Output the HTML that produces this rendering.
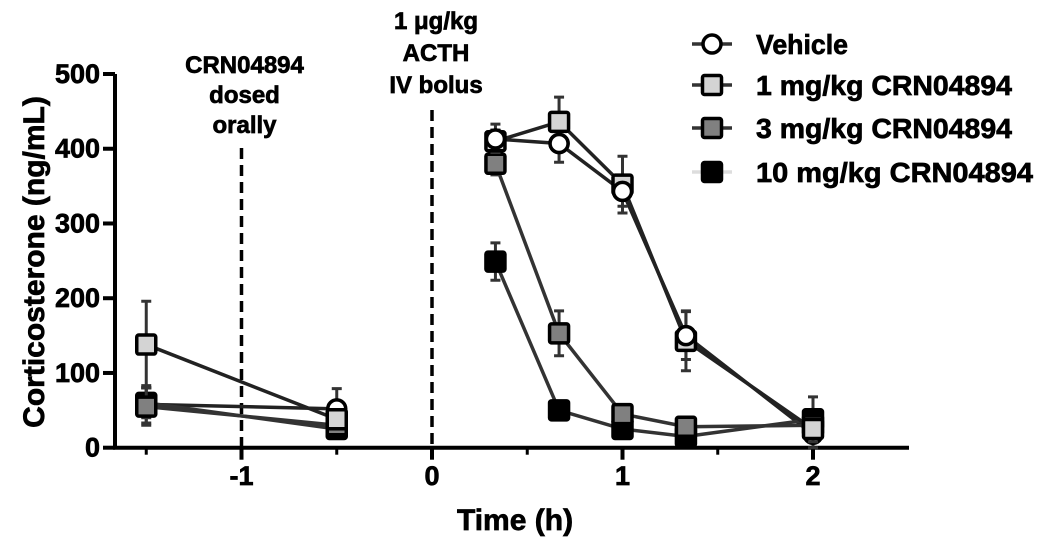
<!DOCTYPE html>
<html><head><meta charset="utf-8"><style>
html,body{margin:0;padding:0;background:#fff}
svg{display:block;font-family:"Liberation Sans",Arial,sans-serif;font-weight:bold}
svg text{stroke:#000;stroke-width:0.7px}
</style></head><body>
<svg id="chart" width="1046" height="550" viewBox="0 0 1046 550" xmlns="http://www.w3.org/2000/svg">
<g id="axes"></g>
<g id="ann"></g>
<g id="series"></g>
<g id="legend"></g>
</svg>
<script>
const times = [-1.5, -0.5, 0.333, 0.667, 1, 1.333, 2];
const vehicle = [58, 52, 413, 407, 343, 150, 18];
const vehicleErr = [25, 27, 20, 25, 20, 32, 20];
const mg1 = [138, 38, 410, 436, 352, 143, 25];
const mg1Err = [58, 10, 15, 33, 38, 40, 10];
const mg3 = [55, 30, 380, 153, 45, 28, 30];
const mg3Err = [25, 8, 15, 30, 8, 5, 8];
const mg10 = [60, 25, 249, 50, 25, 15, 38];
const mg10Err = [20, 5, 25, 5, 5, 5, 30];
const yTicks = [0, 100, 200, 300, 400, 500];
const xTicks = [-1, 0, 1, 2];
const xMinor = [-1.5, -0.5, 0.5, 1.5];
const seriesNames = ["Vehicle", "1 mg/kg CRN04894", "3 mg/kg CRN04894", "10 mg/kg CRN04894"];

const NS = "http://www.w3.org/2000/svg";
const X = t => 432 + t * 190.5;
const Y = v => 447.7 - v * 0.7474;
function mk(tag, attrs, parent) {
  const e = document.createElementNS(NS, tag);
  for (const k in attrs) e.setAttribute(k, attrs[k]);
  parent.appendChild(e);
  return e;
}
const axesG = document.getElementById('axes');
const annG = document.getElementById('ann');
const serG = document.getElementById('series');
const legG = document.getElementById('legend');

let a = mk('line', {x1:115, y1:Y(0), x2:115, y2:Y(500), stroke:'#000', 'stroke-width':4}, axesG);


a = mk('line', {x1:113, y1:Y(0), x2:909, y2:Y(0), stroke:'#000', 'stroke-width':4}, axesG);


yTicks.forEach(v => {
  const l = mk('line', {x1:103, y1:Y(v), x2:115, y2:Y(v), stroke:'#000', 'stroke-width':4}, axesG);
  
  
  const t = mk('text', {x:100, y:Y(v)+9, 'text-anchor':'end', 'font-size':27}, axesG);
  t.textContent = v;
  
  
});
xTicks.forEach(v => {
  const l = mk('line', {x1:X(v), y1:Y(0), x2:X(v), y2:Y(0)+12, stroke:'#000', 'stroke-width':4}, axesG);
  
  
  const t = mk('text', {x:X(v), y:485, 'text-anchor':'middle', 'font-size':27}, axesG);
  t.textContent = v;
  
  
});
xMinor.forEach(v => {
  const l = mk('line', {x1:X(v), y1:Y(0), x2:X(v), y2:Y(0)+7, stroke:'#000', 'stroke-width':3}, axesG);
  
  
});
let tt0 = mk('text', {x:515, y:530, 'text-anchor':'middle', 'font-size':30}, axesG);
tt0.textContent = 'Time (h)';


tt0 = mk('text', {x:0, y:0, 'text-anchor':'middle', 'font-size':30, transform:'translate(44,262) rotate(-90)'}, axesG);
tt0.textContent = 'Corticosterone (ng/mL)';



let d = mk('line', {x1:X(-1), y1:148, x2:X(-1), y2:Y(0), stroke:'#000', 'stroke-width':3.5, 'stroke-dasharray':'11,6'}, annG);


d = mk('line', {x1:X(0), y1:110, x2:X(0), y2:Y(0), stroke:'#000', 'stroke-width':3.5, 'stroke-dasharray':'11,6'}, annG);


[['CRN04894',73],['dosed',103],['orally',133]].forEach(([s,y]) => {
  const e = mk('text', {x:X(-1)+3, y:y, 'text-anchor':'middle', 'font-size':24}, annG);
  e.textContent = s;
  
  
});
[['1 \u03bcg/kg',29],['ACTH',61],['IV bolus',93]].forEach(([s,y]) => {
  const e = mk('text', {x:X(0)+4, y:y, 'text-anchor':'middle', 'font-size':24}, annG);
  e.textContent = s;
  
  
});

const defs = [
  {vals: vehicle, err: vehicleErr, fill:'#fff', shape:'circle', line:'#222'},
  {vals: mg1, err: mg1Err, fill:'#d4d4d4', shape:'square', line:'#222'},
  {vals: mg3, err: mg3Err, fill:'#808080', shape:'square', line:'#333'},
  {vals: mg10, err: mg10Err, fill:'#000', shape:'square', line:'#333'}
];
function marker(shape, fill, cx, cy, parent) {
  let m;
  if (shape === 'circle') m = mk('circle', {cx:cx, cy:cy, r:9, fill:fill, stroke:'#000', 'stroke-width':3.5}, parent);
  else m = mk('rect', {x:cx-9.5, y:cy-9.5, width:19, height:19, rx:2, fill:fill, stroke:'#000', 'stroke-width':3.5}, parent);
  return m;
}
[0,3,2,1].forEach(si => {
  const s = defs[si];
  const g = mk('g', {}, serG);
  
  
  const pre = times.map((q,i)=>i).filter(i=>times[i]<0);
  const post = times.map((q,i)=>i).filter(i=>times[i]>0);
  [pre, post].forEach(idx => {
    const p = mk('polyline', {points: idx.map(i => X(times[i])+','+Y(s.vals[i])).join(' '), fill:'none', stroke:s.line, 'stroke-width':3.5}, g);
    
    
  });
  times.forEach((q,i) => {
    const x = X(q), y1 = Y(s.vals[i]+s.err[i]), y2 = Y(Math.max(0,s.vals[i]-s.err[i]));
    const e = mk('path', {d:`M${x},${y1}V${y2}M${x-5},${y1}H${x+5}M${x-5},${y2}H${x+5}`, stroke:'#333', 'stroke-width':3, fill:'none'}, g);
    
    
  });
  times.forEach((q,i) => {
    const m = marker(s.shape, s.fill, X(q), Y(s.vals[i]), g);
    
    
  });
});
const topG = mk('g', {}, serG);


times.forEach((q,i) => {
  if (q > 0 && q < 2) {
    const m = marker('circle', '#fff', X(q), Y(vehicle[i]), topG);
    
    
  }
});

const ly = [44, 85, 128, 172];
const legW = [92, 256, 256, 277];
defs.forEach((s, i) => {
  const g = mk('g', {}, legG);
  
  
  mk('line', {x1:692, y1:ly[i], x2:732, y2:ly[i], stroke: i===3 ? '#ddd' : '#333', 'stroke-width':3.5}, g);
  marker(s.shape, s.fill, 712, ly[i], g);
  const tx = mk('text', {x:756, y:ly[i]+10, 'font-size':28, textLength: legW[i], lengthAdjust:'spacingAndGlyphs'}, g);
  tx.textContent = seriesNames[i];
  
  
});
</script>
</body></html>
